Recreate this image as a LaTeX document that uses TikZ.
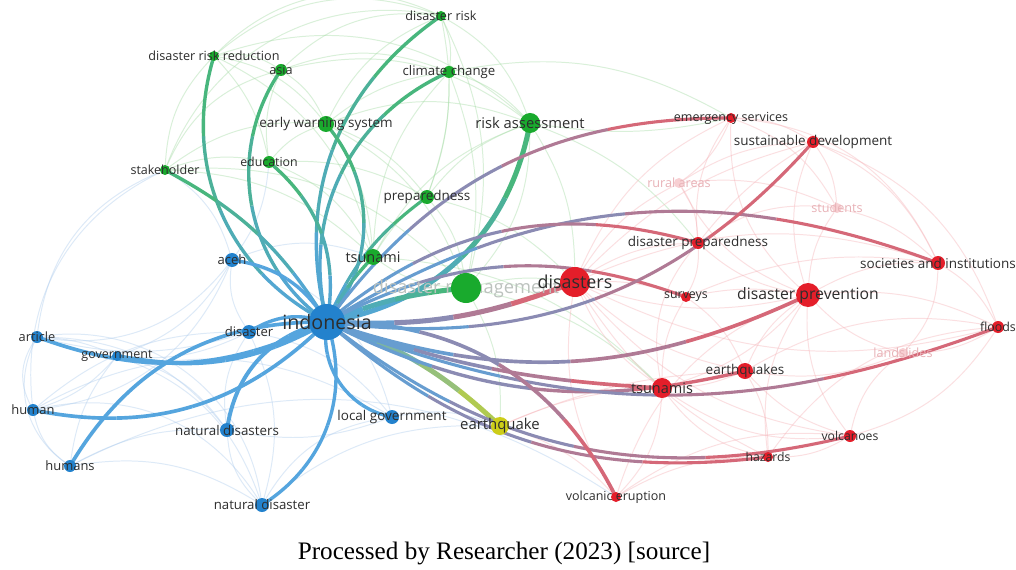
\documentclass[tikz,border=0pt]{standalone}
\usepackage{fontspec}
\setmainfont{Liberation Serif}
\newfontfamily\osans{Open Sans}
\definecolor{nblue}{RGB}{35,130,205}
\definecolor{ngreen}{RGB}{25,170,45}
\definecolor{nred}{RGB}{228,30,42}
\definecolor{nyellow}{RGB}{205,205,25}
\definecolor{eblue}{RGB}{85,165,222}
\definecolor{egreen}{RGB}{70,185,110}
\definecolor{ered}{RGB}{232,95,105}
\definecolor{eyellow}{RGB}{190,208,60}
\definecolor{fblue}{RGB}{175,205,238}
\definecolor{fgreen}{RGB}{165,220,165}
\definecolor{fred}{RGB}{246,180,185}
\definecolor{labc}{RGB}{45,45,45}
\definecolor{fadelab}{RGB}{232,178,183}
\definecolor{dmlab}{RGB}{188,194,190}
\definecolor{fadenode}{RGB}{248,208,211}
\pgfdeclarelayer{bg}
\pgfsetlayers{bg,main}
\newdimen\gedim
\newcommand\gbez[1]{%
  \pgfmathsetmacro\gu{1-(#1)}%
  \pgfmathsetmacro\gbx{\gu*\gu*\gu*(\gxa)+3*\gu*\gu*(#1)*(\gxb)+3*\gu*(#1)*(#1)*(\gxc)+(#1)*(#1)*(#1)*(\gxd)}%
  \pgfmathsetmacro\gby{\gu*\gu*\gu*(\gya)+3*\gu*\gu*(#1)*(\gyb)+3*\gu*(#1)*(#1)*(\gyc)+(#1)*(#1)*(#1)*(\gyd)}%
  \pgfmathsetmacro\gdx{3*\gu*\gu*((\gxb)-(\gxa))+6*\gu*(#1)*((\gxc)-(\gxb))+3*(#1)*(#1)*((\gxd)-(\gxc))}%
  \pgfmathsetmacro\gdy{3*\gu*\gu*((\gyb)-(\gya))+6*\gu*(#1)*((\gyc)-(\gyb))+3*(#1)*(#1)*((\gyd)-(\gyc))}%
}
\newcommand\gedge[6]{%
  \pgfextractx{\gedim}{\pgfpointanchor{#1}{center}}\pgfmathsetmacro\gxa{\gedim}%
  \pgfextracty{\gedim}{\pgfpointanchor{#1}{center}}\pgfmathsetmacro\gya{\gedim}%
  \pgfextractx{\gedim}{\pgfpointanchor{#2}{center}}\pgfmathsetmacro\gxd{\gedim}%
  \pgfextracty{\gedim}{\pgfpointanchor{#2}{center}}\pgfmathsetmacro\gyd{\gedim}%
  \pgfmathsetmacro\gth{atan2((\gyd)-(\gya),(\gxd)-(\gxa))}%
  \pgfmathsetmacro\gL{0.3915*100*veclen(((\gxd)-(\gxa))/100,((\gyd)-(\gya))/100)}%
  \pgfmathsetmacro\gxb{(\gxa)+\gL*cos(\gth+(#3))}%
  \pgfmathsetmacro\gyb{(\gya)+\gL*sin(\gth+(#3))}%
  \pgfmathsetmacro\gxc{(\gxd)+\gL*cos(\gth+180-(#3))}%
  \pgfmathsetmacro\gyc{(\gyd)+\gL*sin(\gth+180-(#3))}%
  \foreach \gi in {0,1,2,3}{%
    \pgfmathsetmacro\gta{\gi/4}%
    \gbez{\gta}\let\gpx\gbx\let\gpy\gby\let\gqx\gdx\let\gqy\gdy
    \pgfmathsetmacro\gtb{(\gi+1)/4}%
    \gbez{\gtb}%
    \pgfmathsetmacro\gcax{(\gpx)+(\gqx)/12}%
    \pgfmathsetmacro\gcay{(\gpy)+(\gqy)/12}%
    \pgfmathsetmacro\gcbx{(\gbx)-(\gdx)/12}%
    \pgfmathsetmacro\gcby{(\gby)-(\gdy)/12}%
    \pgfmathtruncatemacro\gmix{88-25*\gi}%
    \draw[line width=#6, draw=#4!\gmix!#5] (\gpx pt,\gpy pt) .. controls (\gcax pt,\gcay pt) and (\gcbx pt,\gcby pt) .. (\gbx pt,\gby pt);
  }%
}
\begin{document}
\begin{tikzpicture}[x=0.025cm,y=-0.025cm,
  kw/.style={circle, inner sep=0pt, minimum size=#1*0.05cm},
  lab/.style={font=\osans\fontsize{#1}{#1}\selectfont, text=labc, inner sep=0pt},
  lab/.default=9,
  fgr/.style={draw=fgreen, line width=0.7pt, opacity=0.42},
  fbl/.style={draw=fblue, line width=0.7pt, opacity=0.42},
  frd/.style={draw=fred, line width=0.7pt, opacity=0.42}]
\useasboundingbox (0,0) rectangle (1016,570);
% faded label drawn below nodes
\node[lab=13, text=dmlab] (dmlabel) at (466,289) {disaster management};
% nodes
\node[kw=18, fill=nblue] (I) at (327,322) {};
\node[kw=5, fill=ngreen] (drisk) at (441,16) {};
\node[kw=5, fill=ngreen] (drr) at (214,56) {};
\node[kw=6, fill=ngreen] (asia) at (281,70) {};
\node[kw=6, fill=ngreen] (cc) at (449,72) {};
\node[kw=8, fill=ngreen] (ews) at (326,124) {};
\node[kw=10, fill=ngreen] (ra) at (530,123) {};
\node[kw=6, fill=ngreen] (edu) at (269,162) {};
\node[kw=5, fill=ngreen] (stake) at (165,170) {};
\node[kw=7, fill=ngreen] (prep) at (427,197) {};
\node[kw=8, fill=ngreen] (tsu) at (373,257) {};
\node[kw=15, fill=ngreen] (dm) at (466,288) {};
\node[kw=7, fill=nblue] (aceh) at (232,260) {};
\node[kw=7, fill=nblue] (dis) at (249,332) {};
\node[kw=6, fill=nblue] (art) at (37,337) {};
\node[kw=5, fill=nblue] (gov) at (117,356) {};
\node[kw=6, fill=nblue] (hum) at (33,410) {};
\node[kw=6, fill=nblue] (hums) at (70,466) {};
\node[kw=7, fill=nblue] (nds) at (227,430) {};
\node[kw=7, fill=nblue] (nd) at (262,505) {};
\node[kw=7, fill=nblue] (lg) at (392,417) {};
\node[kw=9, fill=nyellow] (eq) at (500,426) {};
\node[kw=15, fill=nred] (dss) at (575,282) {};
\node[kw=5, fill=nred] (surv) at (686,297) {};
\node[kw=12, fill=nred] (dprev) at (808,295) {};
\node[kw=6, fill=nred] (dprep) at (698,243) {};
\node[kw=5, fill=nred] (es) at (731,118) {};
\node[kw=6, fill=nred] (sd) at (813,142) {};
\node[kw=5, fill=fadenode] (rural) at (679,183) {};
\node[kw=5, fill=fadenode] (stud) at (837,208) {};
\node[kw=7, fill=nred] (soc) at (938,263) {};
\node[kw=6, fill=nred] (flo) at (998,327) {};
\node[kw=5, fill=fadenode] (land) at (903,353) {};
\node[kw=8, fill=nred] (eqs) at (745,371) {};
\node[kw=10, fill=nred] (tsus) at (662,388) {};
\node[kw=6, fill=nred] (volc) at (850,436) {};
\node[kw=5, fill=nred] (haz) at (768,457) {};
\node[kw=5, fill=nred] (ve) at (616,497) {};
% edges on background layer
\begin{pgfonlayer}{bg}
\fill[white] (0,0) rectangle (1016,570);
\foreach \a/\b/\c in {drisk/cc/15, drisk/ra/20, drisk/ews/-20, drisk/prep/15, drisk/dm/20, drisk/asia/-25, drisk/drr/-30,
  cc/ra/15, cc/ews/-15, cc/prep/10, cc/dm/15, cc/tsu/-20, cc/asia/-20, asia/drr/-20, asia/ews/15, asia/edu/-15, asia/stake/-25,
  drr/ews/20, drr/edu/15, drr/stake/-20, drr/tsu/25, ews/ra/20, ews/edu/-15, ews/prep/15, ews/tsu/15, ews/dm/20, ews/stake/-20,
  ra/prep/-15, ra/dm/20, ra/tsu/-20, ra/dss/15, prep/dm/15, prep/tsu/-10, tsu/dm/-15, edu/tsu/20, edu/stake/-15, edu/prep/15,
  stake/tsu/20, stake/dm/25, stake/drisk/40, drr/ra/30, asia/ra/25, dm/dss/10, ra/dprep/15, cc/es/20, ra/es/-10, tsu/tsus/20,
  dm/tsus/15, dm/eq/15, prep/dss/15, drr/drisk/35}
  \draw[fgr] (\a) to[bend left=\c] (\b);
\foreach \a/\b/\c in {art/hum/-30, art/hums/-40, hum/hums/-20, art/gov/10, gov/hum/15, gov/hums/-15, art/aceh/-30, aceh/dis/-20,
  aceh/gov/20, dis/gov/15, dis/nds/-20, nds/nd/-20, hums/nd/20, hum/nd/35, nd/lg/25, lg/dis/-20, lg/nds/15, hum/aceh/-30,
  art/nds/25, stake/art/-30, stake/aceh/20, art/dis/-15, hum/dis/20, hums/nds/15, gov/nds/20, gov/nd/25, aceh/lg/30, dis/nd/20,
  art/nd/45, stake/hum/-35, edu/aceh/15, aceh/tsu/20, lg/eq/15, nd/eq/20, hums/ve/30, hum/lg/30}
  \draw[fbl] (\a) to[bend left=\c] (\b);
\foreach \a/\b/\c in {dss/surv/10, dss/dprep/15, dss/dprev/-15, dss/es/20, dss/sd/15, dss/rural/15, dss/tsus/-15, dss/eqs/-15,
  dss/ve/-20, dss/soc/20, dss/volc/-20, dss/haz/-15, dss/flo/-20, dprev/soc/15, dprev/flo/15, dprev/land/-15, dprev/eqs/-15,
  dprev/tsus/15, dprev/volc/-20, dprev/haz/-20, dprev/sd/20, dprev/es/25, dprev/dprep/15, dprev/stud/15, dprev/rural/20,
  soc/flo/15, soc/stud/-15, soc/sd/-20, soc/land/20, stud/sd/-15, sd/es/-15, es/rural/15, rural/dprep/15, dprep/surv/15,
  surv/tsus/-15, surv/eqs/15, tsus/eqs/-10, eqs/land/-15, land/flo/-15, volc/haz/15, haz/ve/-15, volc/land/20, eqs/volc/-15,
  tsus/ve/20, tsus/haz/-20, tsus/volc/-20, flo/volc/20, flo/eqs/-20, sd/dprep/-10, es/dprep/-20, dprep/stud/20, rural/sd/15,
  surv/dprev/10, dprep/tsus/-25, es/soc/30, rural/stud/15, ve/volc/20, eqs/haz/15, eq/tsus/10, eq/volc/-15, eq/ve/15,
  eq/haz/-10, eq/eqs/10, dprev/ve/-25, es/stud/20, sd/flo/25, surv/soc/15, haz/flo/25}
  \draw[frd] (\a) to[bend left=\c] (\b);
% strong edges: indonesia to green cluster
\gedge{I}{drisk}{35}{eblue}{egreen}{2.4pt}
\gedge{I}{drr}{40}{eblue}{egreen}{2.4pt}
\gedge{I}{asia}{45}{eblue}{egreen}{2.4pt}
\gedge{I}{cc}{40}{eblue}{egreen}{2.4pt}
\gedge{I}{ews}{-40}{eblue}{egreen}{2.4pt}
\gedge{I}{ra}{-35}{eblue}{egreen}{3.6pt}
\gedge{I}{edu}{-30}{eblue}{egreen}{2.4pt}
\gedge{I}{stake}{-15}{eblue}{egreen}{2.4pt}
\gedge{I}{prep}{15}{eblue}{egreen}{2.2pt}
\gedge{I}{tsu}{8}{eblue}{egreen}{2.4pt}
\gedge{I}{dm}{8}{eblue}{egreen}{3.6pt}
% indonesia to blue cluster
\gedge{I}{aceh}{-25}{eblue}{eblue}{2.4pt}
\gedge{I}{dis}{-25}{eblue}{eblue}{2.4pt}
\gedge{I}{art}{23}{eblue}{eblue}{2.6pt}
\gedge{I}{gov}{20}{eblue}{eblue}{3pt}
\gedge{I}{hum}{28}{eblue}{eblue}{2.6pt}
\gedge{I}{hums}{-30}{eblue}{eblue}{2.6pt}
\gedge{I}{nds}{-35}{eblue}{eblue}{2.8pt}
\gedge{I}{nd}{38}{eblue}{eblue}{2.4pt}
\gedge{I}{lg}{-45}{eblue}{eblue}{2.4pt}
% indonesia to yellow
\gedge{I}{eq}{12}{eblue}{eyellow}{3.6pt}
% indonesia to red cluster
\gedge{I}{dss}{-12}{eblue}{ered}{3.6pt}
\gedge{I}{es}{27}{eblue}{ered}{2.2pt}
\gedge{I}{soc}{26}{eblue}{ered}{2.2pt}
\gedge{I}{dprep}{28}{eblue}{ered}{2.2pt}
\gedge{I}{surv}{24}{eblue}{ered}{2.2pt}
\gedge{I}{sd}{-28}{eblue}{ered}{2.2pt}
\gedge{I}{dprev}{-22}{eblue}{ered}{2.6pt}
\gedge{I}{tsus}{-8}{eblue}{ered}{2.6pt}
\gedge{I}{eqs}{-20}{eblue}{ered}{2.4pt}
\gedge{I}{flo}{-21}{eblue}{ered}{2.2pt}
\gedge{I}{volc}{-26}{eblue}{ered}{2.2pt}
\gedge{I}{haz}{-24}{eblue}{ered}{2.2pt}
\gedge{I}{ve}{32}{eblue}{ered}{2.6pt}
\end{pgfonlayer}
% labels
\node[lab=14] at (I) {indonesia};
\node[lab] at (drisk) {disaster risk};
\node[lab] at (drr) {disaster risk reduction};
\node[lab] at (asia) {asia};
\node[lab=9.4] at (cc) {climate change};
\node[lab=9.6] at (ews) {early warning system};
\node[lab=10.5] at (ra) {risk assessment};
\node[lab=8.8] at (edu) {education};
\node[lab=8.9] at (stake) {stakeholder};
\node[lab=9.6] at (prep) {preparedness};
\node[lab=10.3] at (tsu) {tsunami};
\node[lab=9.3] at (aceh) {aceh};
\node[lab=9.3] at (dis) {disaster};
\node[lab=9.1] at (art) {article};
\node[lab=8.9] at (gov) {government};
\node[lab=9.2] at (hum) {human};
\node[lab=9.2] at (hums) {humans};
\node[lab=9.5] at (nds) {natural disasters};
\node[lab=9.4] at (nd) {natural disaster};
\node[lab=9.6] at (lg) {local government};
\node[lab=10.6] at (eq) {earthquake};
\node[lab=12.7] at (dss) {disasters};
\node[lab=8.8] at (surv) {surveys};
\node[lab=11.2] at (dprev) {disaster prevention};
\node[lab=9.6] at (dprep) {disaster preparedness};
\node[lab=8.9] at (es) {emergency services};
\node[lab=9.6] at (sd) {sustainable development};
\node[lab, text=fadelab] at (rural) {rural areas};
\node[lab, text=fadelab] at (stud) {students};
\node[lab=9.6] at (soc) {societies and institutions};
\node[lab=8.8] at (flo) {floods};
\node[lab, text=fadelab] at (land) {landslides};
\node[lab=9.6] at (eqs) {earthquakes};
\node[lab=10.3] at (tsus) {tsunamis};
\node[lab=8.7] at (volc) {volcanoes};
\node[lab=8.7] at (haz) {hazards};
\node[lab=8.9] at (ve) {volcanic eruption};
% caption
\node[font=\fontsize{17.9}{20}\selectfont, inner sep=0pt] (cap) at (504,553) {Processed by Researcher (2023) [source]};
\end{tikzpicture}
\end{document}
